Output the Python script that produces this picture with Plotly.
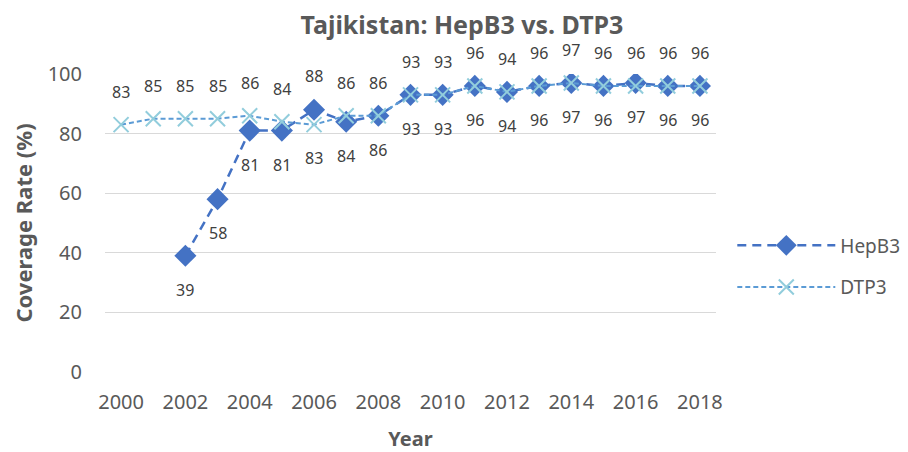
import plotly.graph_objects as go

years = list(range(2000, 2019))
hepb3_years = list(range(2002, 2019))
hepb3 = [39, 58, 81, 81, 88, 84, 86, 93, 93, 96, 94, 96, 97, 96, 97, 96, 96]
dtp3 = [83, 85, 85, 85, 86, 84, 83, 86, 86, 93, 93, 96, 94, 96, 97, 96, 96, 96, 96]
# label side: +1 above, -1 below
hepb3_side = [-1, -1, -1, -1, 1, -1, -1, -1, -1, -1, -1, -1, -1, -1, -1, -1, -1]
dtp3_side = [1, 1, 1, 1, 1, 1, -1, 1, 1, 1, 1, 1, 1, 1, 1, 1, 1, 1, 1]

FONT = "Noto Sans"
fig = go.Figure()
fig.add_trace(go.Scatter(
    x=hepb3_years, y=hepb3, name="HepB3", mode="lines+markers",
    line=dict(color="#4472C4", width=2.5, dash="9px,6px"),
    marker=dict(symbol="diamond", size=17, color="#4472C4"),
    legendgroup="a"))
fig.add_trace(go.Scatter(
    x=years, y=dtp3, name="DTP3", mode="lines+markers",
    line=dict(color="#5B9BD5", width=2, dash="5px,3px"),
    marker=dict(symbol="x-thin", size=15, line=dict(color="#92CDDC", width=2)),
    legendgroup="b"))

annos = []
for x, y, s in zip(hepb3_years, hepb3, hepb3_side):
    annos.append(dict(x=x, y=y, text=str(y), showarrow=False, yshift=34 * s,
                      font=dict(family=FONT, size=16, color="#404040")))
for x, y, s in zip(years, dtp3, dtp3_side):
    annos.append(dict(x=x, y=y, text=str(y), showarrow=False, yshift=33 * s,
                      font=dict(family=FONT, size=16, color="#404040")))

fig.update_layout(
    width=908, height=452,
    margin=dict(l=97, r=199, t=66, b=88),
    paper_bgcolor="white", plot_bgcolor="white",
    font=dict(family=FONT, color="#595959"),
    title=dict(text="<b>Tajikistan: HepB3 vs. DTP3</b>", x=0.5, xanchor="center",
               y=0.962, yanchor="middle", font=dict(size=25, color="#595959")),
    xaxis=dict(range=[1999.5, 2018.5], tickvals=list(range(2000, 2019, 2)),
               showgrid=False, zeroline=False, showline=False, automargin=False,
               tickfont=dict(size=20, color="#595959"), ticklabelstandoff=16,
               title=dict(text="<b>Year</b>", font=dict(size=20, color="#595959"), standoff=17)),
    yaxis=dict(range=[0, 100], tickvals=[0, 20, 40, 60, 80, 100],
               showgrid=True, gridcolor="#D9D9D9", gridwidth=1, zeroline=False,
               showline=False, tickfont=dict(size=20, color="#595959"),
               ticklabelstandoff=22, automargin=False,
               title=dict(text="<b>Coverage Rate (%)</b>", font=dict(size=22, color="#595959"), standoff=10)),
    legend=dict(x=1.025, y=0.354, xanchor="left", yanchor="middle",
                font=dict(size=19, color="#595959"), traceorder="grouped",
                tracegroupgap=14, itemwidth=98, bgcolor="rgba(0,0,0,0)"),
    annotations=annos,
)
fig.write_html("out.html")
